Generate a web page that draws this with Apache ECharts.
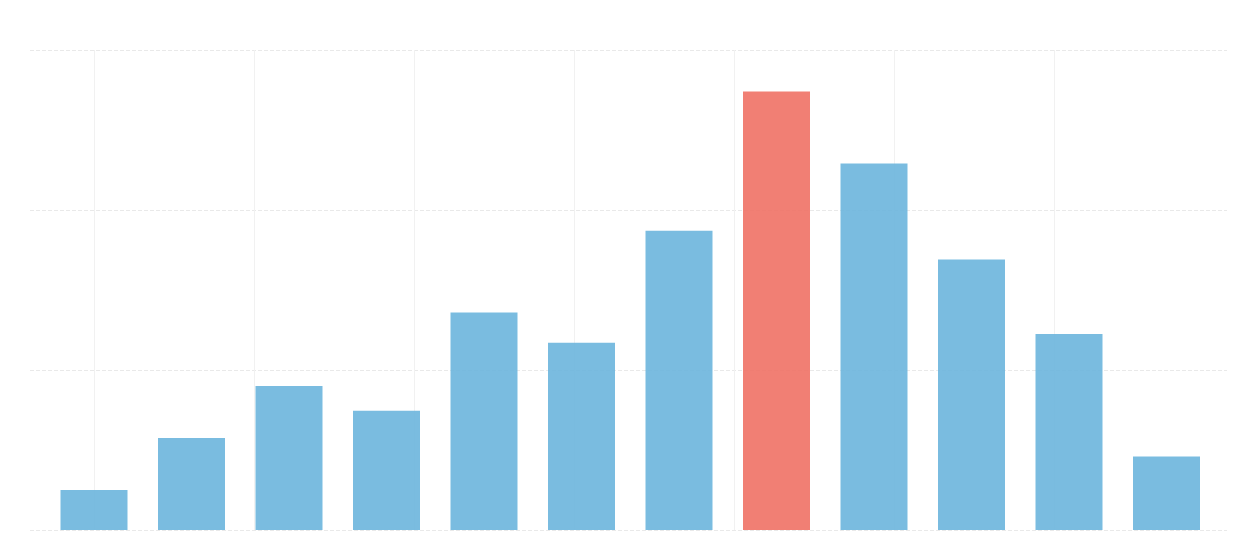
<!DOCTYPE html>
<html>
<head>
<meta charset="utf-8">
<script src="https://cdn.jsdelivr.net/npm/echarts@6/dist/echarts.min.js"></script>
<style>html,body{margin:0;padding:0;background:#fff}#c{width:1260px;height:560px}</style>
</head>
<body>
<div id="c"></div>
<script>
const categories = ['1','2','3','4','5','6','7','8','9','10','11','12'];
const values = [25, 57.5, 90, 74.5, 136, 117, 187, 274, 229, 169, 122.5, 46];
const highlightIndex = 7;
const yMax = 300;
const yInterval = 100;

const chart = echarts.init(document.getElementById('c'), null, {renderer: 'canvas'});
chart.setOption({
  animation: false,
  backgroundColor: '#ffffff',
  grid: [
    {left: 30, right: 33, top: 50, bottom: 30},
    {left: 94, width: 960, top: 50, bottom: 30},
    {left: 45.25, width: 1170, top: 50, bottom: 30}
  ],
  xAxis: [
    {gridIndex: 0, type: 'value', show: false},
    {gridIndex: 1, type: 'value', min: 0, max: 6, interval: 1,
     axisLine: {show: false}, axisTick: {show: false}, axisLabel: {show: false},
     splitLine: {show: true, lineStyle: {color: '#f1f1f1', width: 1, type: 'solid'}}},
    {gridIndex: 2, type: 'category', data: categories,
     axisLine: {show: false}, axisTick: {show: false}, axisLabel: {show: false}, splitLine: {show: false}}
  ],
  yAxis: [
    {gridIndex: 0, type: 'value', min: 0, max: yMax, interval: yInterval,
     axisLine: {show: false}, axisTick: {show: false}, axisLabel: {show: false},
     splitLine: {show: true, lineStyle: {color: '#e9e9e9', width: 1, type: [4, 2]}}},
    {gridIndex: 1, type: 'value', show: false},
    {gridIndex: 2, type: 'value', min: 0, max: yMax, interval: yInterval, show: false, splitLine: {show: false}}
  ],
  series: [{
    type: 'bar',
    xAxisIndex: 2,
    yAxisIndex: 2,
    barWidth: 67,
    data: values.map((v, i) => ({
      value: v,
      itemStyle: {color: i === highlightIndex ? '#ef7165' : '#6cb5dd', opacity: 0.9}
    }))
  }]
});
</script>
</body>
</html>
